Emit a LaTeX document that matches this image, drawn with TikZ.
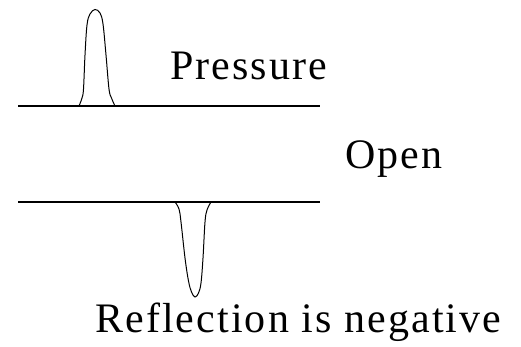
\documentclass[tikz,border=0pt]{standalone}
\usepackage{fontspec}
\setmainfont{Liberation Serif}
\begin{document}
\begin{tikzpicture}[x=1pt,y=-1pt,
  wall/.style={line width=2pt},
  pulse/.style={line width=1pt},
  lbl/.style={anchor=base west,inner sep=0pt,font=\fontsize{42}{46}\selectfont\addfontfeature{LetterSpace=5}}]
\useasboundingbox (0,0) rectangle (521,346);
\coordinate (t1) at (18,106);
\coordinate (t2) at (320,106);
\coordinate (b1) at (18,202);
\coordinate (b2) at (320,202);
\draw[wall] (t1) -- (t2);
\draw[wall] (b1) -- (b2);
\draw[pulse] plot[smooth,tension=0.6] coordinates {(79,106) (82,98) (83.5,89) (85,55) (87,25) (90,14) (95,9.5) (100,13) (103,24) (106,55) (109,89) (111.5,98) (115,106)};
\draw[pulse] plot[smooth,tension=0.6] coordinates {(175,202) (179,209) (181,222) (185,258) (188.5,281) (191.5,292) (195,297) (198.5,293) (201,283) (203,258) (205,222) (207,210) (211,202)};
\node[lbl] (p) at (170,79) {Pressure};
\node[lbl] (o) at (345,168) {Open};
\node[lbl] (r) at (95,332) {Reflection is negative};
\end{tikzpicture}
\end{document}
